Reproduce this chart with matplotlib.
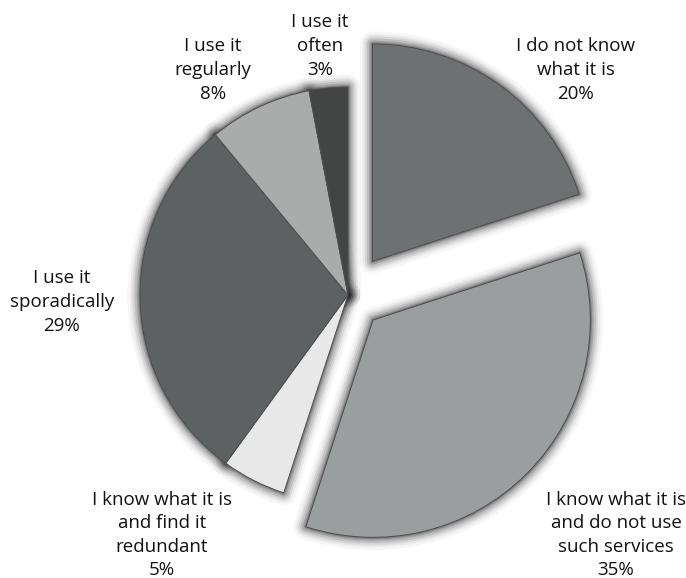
import matplotlib.pyplot as plt
import matplotlib.patheffects as pe

# survey answers, clockwise from 12 o'clock
answers = ['I do not know\nwhat it is',
           'I know what it is\nand do not use\nsuch services',
           'I know what it is\nand find it\nredundant',
           'I use it\nsporadically',
           'I use it\nregularly',
           'I use it\noften']
shares = [20, 35, 5, 29, 8, 3]
colors = ['#6e7171', '#9b9e9e', '#e8e8e8', '#5e6161', '#aaacac', '#434545']
pull_out = [0.2, 0.17, 0, 0, 0, 0]

W, H = 686, 578
fig = plt.figure(figsize=(W / 100, H / 100), dpi=100)
ax = fig.add_axes([0, 0, 1, 1])

R = 208
centre = (348, H - 295)
# explode is an absolute offset, so scale it by the radius
explode = [p * R for p in pull_out]

# soft dark halo round every slice, drawn as a layer under the fills
glow = [pe.Stroke(linewidth=lw, foreground='#1a1a1a', alpha=a, joinstyle='round')
        for lw, a in [(18, 0.04), (14, 0.06), (11, 0.09), (8, 0.12),
                      (5, 0.16), (2.5, 0.25)]]
halo, _ = ax.pie(shares, explode=explode, colors=colors, startangle=90,
                 counterclock=False, center=centre, radius=R)
wedges, _ = ax.pie(shares, explode=explode, colors=colors, startangle=90,
                   counterclock=False, center=centre, radius=R,
                   wedgeprops=dict(edgecolor='#4c4f4f', linewidth=0.7))
for h, w, p in zip(halo, wedges, pull_out):
    if p:
        h.set_radius(R * 1.045)
        w.set_radius(R * 1.045)
    h.set_path_effects(glow)
    h.set_zorder(1)
    w.set_zorder(2)

# pie() resets the limits, so set the pixel frame afterwards
ax.set_xlim(0, W)
ax.set_ylim(0, H)
ax.set_aspect('equal')
ax.axis('off')

# label spots, pixel positions from the top left
label_xy = [(576, 70), (616, 535), (162, 535), (62, 302), (213, 70), (320, 46)]
for name, v, (x, y) in zip(answers, shares, label_xy):
    ax.text(x, H - y, f'{name}\n{v}%', ha='center', va='center',
            fontsize=13.5, family='Open Sans', color='#111111', linespacing=1.4)

fig.savefig('out.png', dpi=100)
